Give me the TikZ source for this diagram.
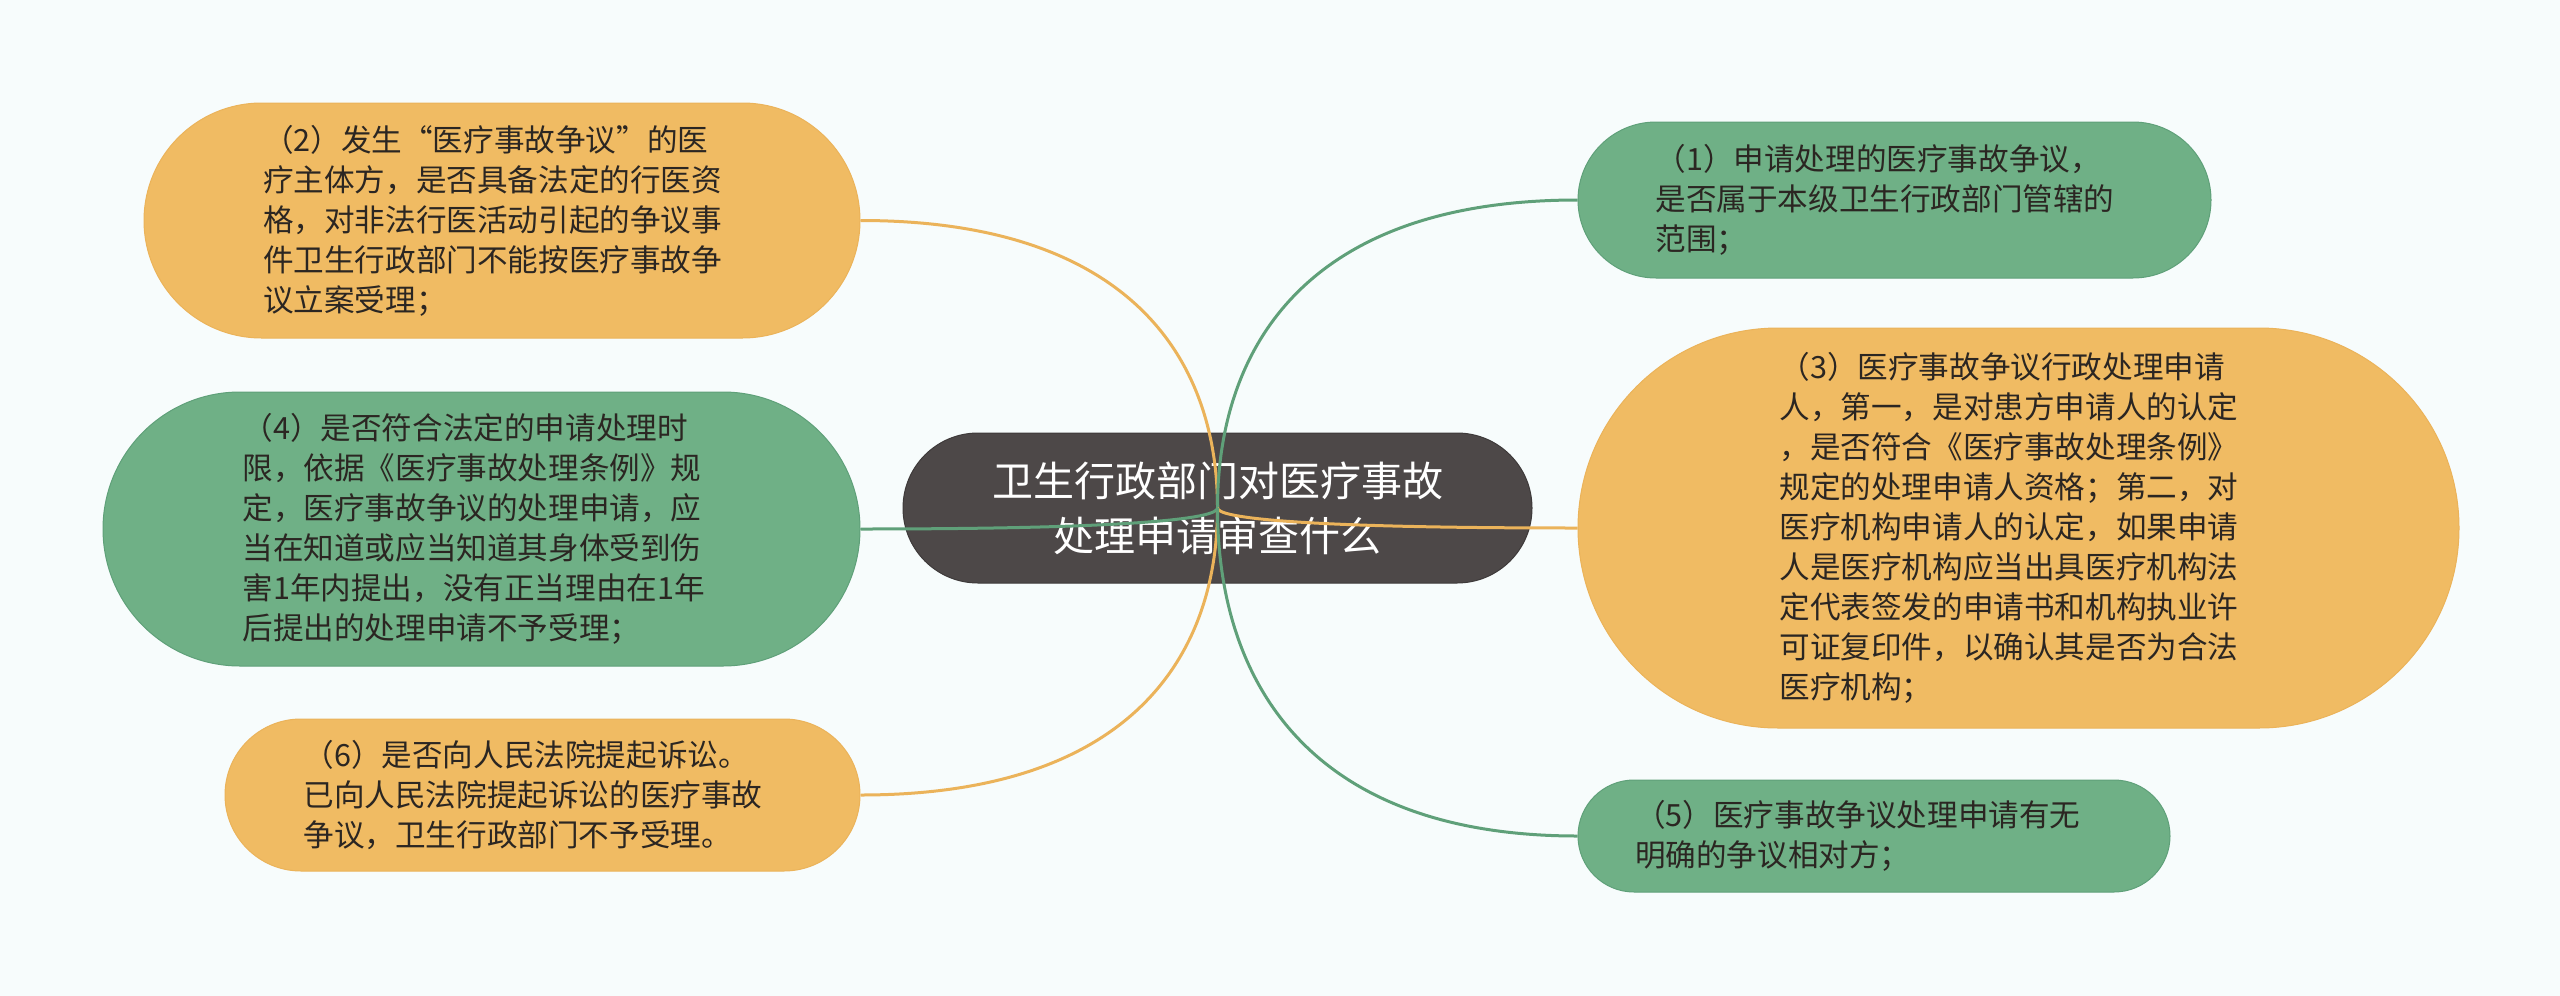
\documentclass[tikz,border=0pt]{standalone}
\usepackage{fontspec}
\setmainfont{Noto Sans CJK SC}
\usetikzlibrary{calc}
\definecolor{bgc}{HTML}{F7FCFC}
\definecolor{orfill}{HTML}{F0BB63}
\definecolor{orline}{HTML}{EBB35A}
\definecolor{grfill}{HTML}{6FB086}
\definecolor{grline}{HTML}{5FA079}
\definecolor{ctfill}{HTML}{4D4848}
\definecolor{ctline}{HTML}{3E3A3A}
\definecolor{txtc}{HTML}{2B2622}
\begin{document}
\begin{tikzpicture}[x=1pt,y=-1pt,
  bub/.style={rectangle, inner sep=0pt, align=left, text width=478pt, text=txtc,
    font=\fontsize{30.6}{40}\selectfont},
  obub/.style={bub, fill=orfill, draw=orline, line width=1pt},
  gbub/.style={bub, fill=grfill, draw=grline, line width=1pt},
  bsz/.style n args={3}{minimum width=#1, minimum height=#2, rounded corners=#3},
  ctr/.style={rectangle, inner sep=0pt, align=center, fill=ctfill, draw=ctline, line width=1pt,
    text=white, font=\fontsize{41}{55}\selectfont},
  link/.style={line width=3pt,
    to path={.. controls ($(\tikztostart)!0.5!(\tikztostart|-\tikztotarget)$) and ($(\tikztostart|-\tikztotarget)!0.23!(\tikztotarget)$) .. (\tikztotarget)}},
  olink/.style={link, draw=orline},
  glink/.style={link, draw=grline}
]
\fill[bgc] (0,0) rectangle (2560,996);
\useasboundingbox (0,0) rectangle (2560,996);

\node[ctr, bsz={629}{150}{75}] (c) at (1217.5,508) {卫生行政部门对医疗事故\\处理申请审查什么};

\node[obub, bsz={716}{235}{117.5}] (n2) at (502,220.5) {（2）发生“医疗事故争议”的医\\疗主体方，是否具备法定的行医资\\格，对非法行医活动引起的争议事\\件卫生行政部门不能按医疗事故争\\议立案受理；};

\node[gbub, bsz={757}{274}{137}] (n4) at (481.5,529) {（4）是否符合法定的申请处理时\\限，依据《医疗事故处理条例》规\\定，医疗事故争议的处理申请，应\\当在知道或应当知道其身体受到伤\\害1年内提出，没有正当理由在1年\\后提出的处理申请不予受理；};

\node[obub, bsz={635}{152}{76}] (n6) at (542.5,795) {（6）是否向人民法院提起诉讼。\\已向人民法院提起诉讼的医疗事故\\争议，卫生行政部门不予受理。};

\node[gbub, bsz={633}{156}{78}] (n1) at (1894.5,200) {（1）申请处理的医疗事故争议，\\是否属于本级卫生行政部门管辖的\\范围；};

\node[obub, bsz={881}{400}{200}] (n3) at (2018.5,528) {（3）医疗事故争议行政处理申请\\人，第一，是对患方申请人的认定\\，是否符合《医疗事故处理条例》\\规定的处理申请人资格；第二，对\\医疗机构申请人的认定，如果申请\\人是医疗机构应当出具医疗机构法\\定代表签发的申请书和机构执业许\\可证复印件，以确认其是否为合法\\医疗机构；};

\node[gbub, bsz={592}{112}{56}] (n5) at (1874,836) {（5）医疗事故争议处理申请有无\\明确的争议相对方；};

\draw[olink] (c.center) to (n2.east);
\draw[glink] (c.center) to (n4.east);
\draw[olink] (c.center) to (n6.east);
\draw[glink] (c.center) to (n1.west);
\draw[olink] (c.center) to (n3.west);
\draw[glink] (c.center) to (n5.west);
\end{tikzpicture}
\end{document}
